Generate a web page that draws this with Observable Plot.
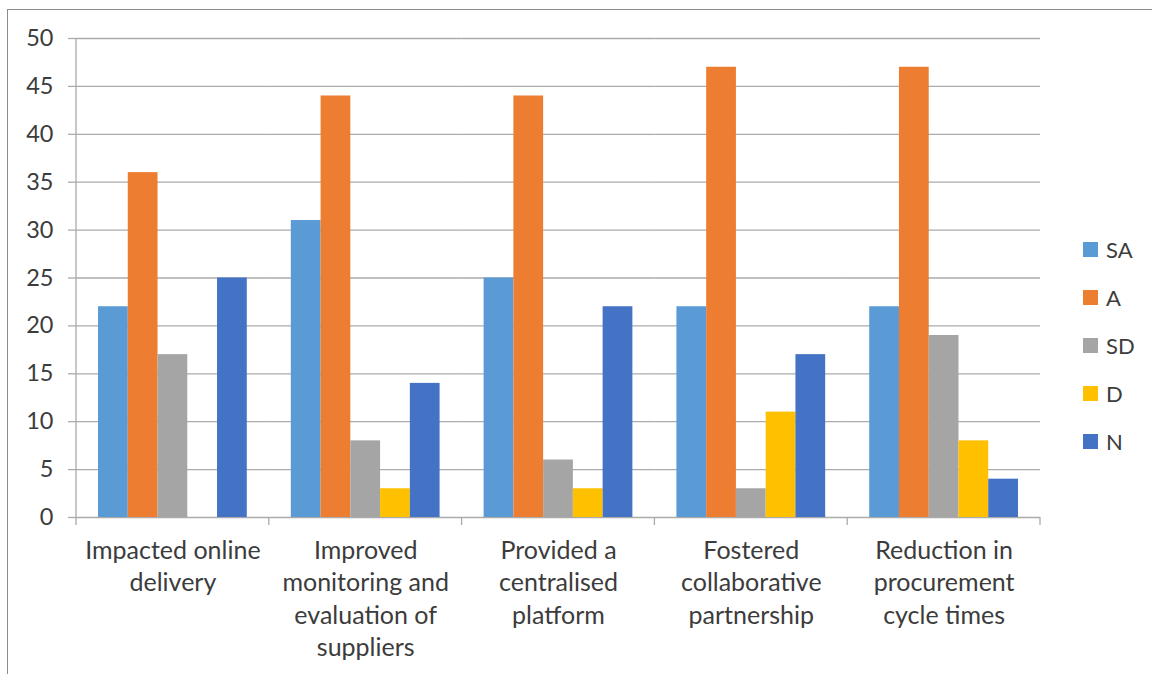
<!DOCTYPE html>
<html>
<head>
<meta charset="utf-8">
<script src="https://cdn.jsdelivr.net/npm/d3@7"></script>
<script src="https://cdn.jsdelivr.net/npm/@observablehq/plot@0.6"></script>
<style>
  html, body { margin: 0; padding: 0; background: #fff; overflow: hidden; }
  #wrap { position: relative; width: 1152px; height: 674px; font-family: Lato, "DejaVu Sans", sans-serif; }
  #frame { position: absolute; left: 7px; top: 9px; width: 1160px; height: 680px; border: 1.5px solid #8c8c8c; box-sizing: border-box; }
  #chart { position: absolute; left: 0; top: 0; }
  #legend { position: absolute; left: 1083px; top: 225px; color: #3c3c3c; font-size: 22px; }
  #legend .row { display: flex; align-items: center; height: 48px; }
  #legend .sw { width: 15px; height: 15px; margin-right: 8px; }
</style>
</head>
<body>
<div id="wrap">
  <div id="frame"></div>
  <div id="chart"></div>
  <div id="legend"></div>
</div>
<script>
// Survey responses per statement
const categories = [
  "Impacted online delivery",
  "Improved monitoring and evaluation of suppliers",
  "Provided a centralised platform",
  "Fostered collaborative partnership",
  "Reduction in procurement cycle times"
];
const categoryLabels = [
  "Impacted online\ndelivery",
  "Improved\nmonitoring and\nevaluation of\nsuppliers",
  "Provided a\ncentralised\nplatform",
  "Fostered\ncollaborative\npartnership",
  "Reduction in\nprocurement\ncycle times"
];
const series = ["SA", "A", "SD", "D", "N"];
const seriesColors = ["#5B9BD5", "#ED7D31", "#A5A5A5", "#FFC000", "#4472C4"];
const valuesSA = [22, 31, 25, 22, 22];
const valuesA  = [36, 44, 44, 47, 47];
const valuesSD = [17, 8, 6, 3, 19];
const valuesD  = [0, 3, 3, 11, 8];
const valuesN  = [25, 14, 22, 17, 4];
const yTicks = [0, 5, 10, 15, 20, 25, 30, 35, 40, 45, 50];

const bySeries = {SA: valuesSA, A: valuesA, SD: valuesSD, D: valuesD, N: valuesN};
const rows = categories.flatMap((category, i) =>
  series.map(s => ({category, series: s, value: bySeries[s][i]}))
);

const gridColor = "#ababab";
const textColor = "#3c3c3c";

// Y axis line and category boundary ticks, drawn once across the facets
const axisLines = Plot.frame({
  facet: "super",
  render(index, scales) {
    const {fx, y} = scales;
    const y0 = y(0);
    const yTop = y(yTicks[yTicks.length - 1]);
    const domain = fx.domain();
    const edges = domain.map(d => fx(d));
    edges.push(fx(domain[domain.length - 1]) + fx.bandwidth());
    const g = d3.create("svg:g")
      .attr("stroke", gridColor)
      .attr("stroke-width", 1.3);
    g.append("line")
      .attr("x1", edges[0]).attr("x2", edges[0])
      .attr("y1", yTop).attr("y2", y0);
    for (const e of edges) {
      g.append("line")
        .attr("x1", e).attr("x2", e)
        .attr("y1", y0).attr("y2", y0 + 8);
    }
    return g.node();
  }
});

const plot = Plot.plot({
  width: 1152,
  height: 674,
  marginLeft: 76,
  marginRight: 112,
  marginTop: 38,
  marginBottom: 157,
  style: {fontFamily: "Lato, 'DejaVu Sans', sans-serif", background: "transparent", color: textColor},
  fx: {domain: categories, padding: 0, round: false, label: null},
  x: {domain: series, paddingInner: 0, paddingOuter: 0.74, round: false, axis: null},
  y: {domain: [0, 50], label: null},
  color: {domain: series, range: seriesColors},
  marks: [
    Plot.gridY(yTicks, {stroke: gridColor, strokeOpacity: 1, strokeWidth: 1.3}),
    Plot.barY(rows, {fx: "category", x: "series", y: "value", fill: "series"}),
    Plot.axisY(yTicks, {
      tickSize: 8, tickPadding: 15, fontSize: 23.5,
      stroke: gridColor, strokeWidth: 1.3, fill: textColor, label: null
    }),
    Plot.axisFx({
      anchor: "bottom", tickSize: 0, tickPadding: 18, fontSize: 25, lineHeight: 1.3,
      fill: textColor, label: null,
      tickFormat: d => categoryLabels[categories.indexOf(d)]
    }),
    axisLines
  ]
});
document.getElementById("chart").append(plot);

// Legend built from the plot's color scale
const color = plot.scale("color");
const legend = d3.select("#legend");
color.domain.forEach((name, i) => {
  const row = legend.append("div").attr("class", "row");
  row.append("div").attr("class", "sw").style("background", color.range[i]);
  row.append("span").text(name);
});
</script>
</body>
</html>
